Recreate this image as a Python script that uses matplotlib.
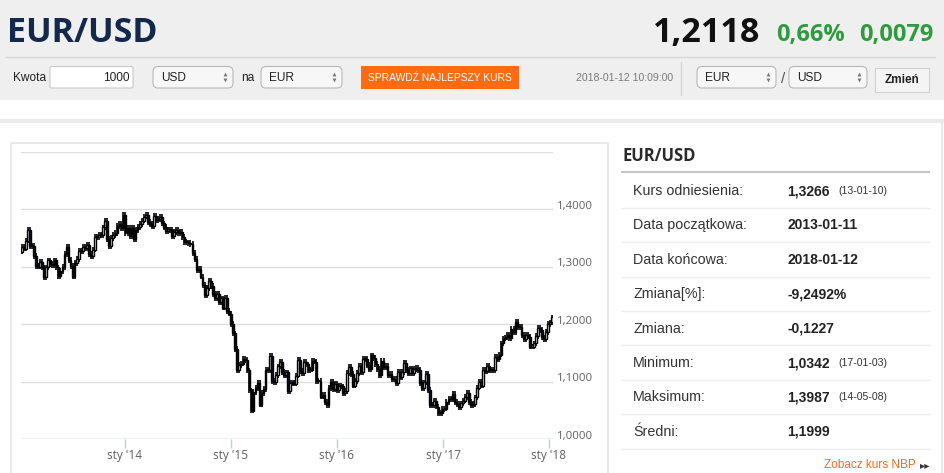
import matplotlib
matplotlib.use('Agg')
import matplotlib.pyplot as plt
import matplotlib.dates as mdates
from matplotlib.patches import Rectangle, FancyBboxPatch
from matplotlib.transforms import blended_transform_factory, offset_copy
import numpy as np
import pandas as pd

# weekly closes EUR/USD (Fridays)
close_2013 = [1.3345, 1.3317, 1.3458, 1.3640, 1.3365, 1.3362, 1.3190,
              1.3020, 1.3005, 1.3080, 1.2990, 1.2820,
              1.2990, 1.3110, 1.3050, 1.3030,
              1.3110, 1.2990, 1.2840, 1.2930, 1.3000,
              1.3220, 1.3345, 1.3120, 1.3010,
              1.2830, 1.3070, 1.3140, 1.3280,
              1.3280, 1.3340, 1.3330, 1.3380, 1.3220,
              1.3180, 1.3300, 1.3520, 1.3520,
              1.3555, 1.3550, 1.3685, 1.3800,
              1.3485, 1.3365, 1.3500, 1.3555, 1.3595,
              1.3705, 1.3745, 1.3670, 1.3900]
close_2014 = [1.3590, 1.3670, 1.3540, 1.3680, 1.3485,
              1.3635, 1.3695, 1.3740, 1.3805,
              1.3875, 1.3910, 1.3780, 1.3750,
              1.3705, 1.3885, 1.3815, 1.3835,
              1.3870, 1.3755, 1.3695, 1.3630, 1.3635,
              1.3645, 1.3540, 1.3600, 1.3645,
              1.3590, 1.3605, 1.3525, 1.3430,
              1.3425, 1.3410, 1.3400, 1.3240, 1.3130,
              1.2950, 1.2960, 1.2830, 1.2685,
              1.2515, 1.2625, 1.2760, 1.2670, 1.2525,
              1.2450, 1.2525, 1.2390, 1.2450,
              1.2290, 1.2465, 1.2225, 1.2185]
close_2015 = [1.2000, 1.1840, 1.1565, 1.1205, 1.1290,
              1.1315, 1.1390, 1.1380, 1.1195,
              1.0845, 1.0495, 1.0825, 1.0890,
              1.0970, 1.0600, 1.0805, 1.0875,
              1.1200, 1.1200, 1.1445, 1.1015, 1.0985,
              1.1110, 1.1265, 1.1350, 1.1165,
              1.1110, 1.1160, 1.0830, 1.0980, 1.0985,
              1.0965, 1.1105, 1.1385, 1.1185,
              1.1150, 1.1340, 1.1300, 1.1195,
              1.1210, 1.1360, 1.1350, 1.1015, 1.1005,
              1.0740, 1.0770, 1.0645, 1.0590,
              1.0885, 1.0990, 1.0865, 1.0965]
close_2016 = [1.0860, 1.0925, 1.0915, 1.0795, 1.0830,
              1.1155, 1.1255, 1.1130, 1.0930,
              1.1005, 1.1155, 1.1270, 1.1165,
              1.1390, 1.1400, 1.1285, 1.1225, 1.1455,
              1.1405, 1.1310, 1.1225, 1.1115,
              1.1365, 1.1250, 1.1280, 1.1115,
              1.1135, 1.1050, 1.1040, 1.0975, 1.1175,
              1.1085, 1.1165, 1.1325, 1.1200,
              1.1155, 1.1230, 1.1155, 1.1225, 1.1240,
              1.1200, 1.0975, 1.0880, 1.0985,
              1.1140, 1.0850, 1.0590, 1.0590,
              1.0665, 1.0565, 1.0450, 1.0455, 1.0520]
close_2017 = [1.0530, 1.0645, 1.0705, 1.0695,
              1.0780, 1.0640, 1.0615, 1.0560,
              1.0620, 1.0670, 1.0735, 1.0800, 1.0650,
              1.0590, 1.0615, 1.0725, 1.0895,
              1.0995, 1.0930, 1.1205, 1.1185,
              1.1280, 1.1195, 1.1200, 1.1195, 1.1425,
              1.1400, 1.1470, 1.1665, 1.1750,
              1.1770, 1.1820, 1.1760, 1.1925,
              1.1860, 1.2035, 1.1945, 1.1950, 1.1815,
              1.1735, 1.1820, 1.1785, 1.1610,
              1.1610, 1.1665, 1.1795, 1.1935,
              1.1895, 1.1770, 1.1745, 1.1860, 1.2005]
close_2018 = [1.2030, 1.2118]

close = close_2013 + close_2014 + close_2015 + close_2016 + close_2017 + close_2018
start_date = '2013-01-11'
ref_rate = 1.3266

grid_vals = [1.0, 1.1, 1.2, 1.3, 1.4, 1.5]
ytick_vals = [1.0, 1.1, 1.2, 1.3, 1.4]
ytick_labels = ['1,0000', '1,1000', '1,2000', '1,3000', '1,4000']
xtick_dates = ['2014-01-01', '2015-01-01', '2016-01-01', '2017-01-01', '2018-01-01']
xtick_labels = ["sty '14", "sty '15", "sty '16", "sty '17", "sty '18"]

pair = 'EUR/USD'
last_rate = '1,2118'
chg_pct = '0,66%'
chg_abs = '0,0079'
amount = '1000'
quote_time = '2018-01-12 10:09:00'

row_labels = ['Kurs odniesienia:', 'Data początkowa:', 'Data końcowa:', 'Zmiana[%]:',
              'Zmiana:', 'Minimum:', 'Maksimum:', 'Średni:']
row_values = ['1,3266', '2013-01-11', '2018-01-12', '-9,2492%',
              '-0,1227', '1,0342', '1,3987', '1,1999']
row_dates = ['(13-01-10)', '', '', '', '', '(17-01-03)', '(14-05-08)', '']

W, H = 945, 473
fig = plt.figure(figsize=(W / 100, H / 100), dpi=100)
bg = fig.add_axes([0, 0, 1, 1])
bg.set_xlim(0, W)
bg.set_ylim(H, 0)
bg.axis('off')

SANS = ['Liberation Sans', 'DejaVu Sans']
OPEN = ['Open Sans', 'DejaVu Sans']


def box(x0, y0, x1, y1, fc, ec='none', lw=1.0, r=0, z=1):
    if r:
        p = FancyBboxPatch((x0, y0), x1 - x0, y1 - y0,
                           boxstyle=f'round,pad=0,rounding_size={r}',
                           fc=fc, ec=ec, lw=lw, zorder=z)
    else:
        p = Rectangle((x0, y0), x1 - x0, y1 - y0, fc=fc, ec=ec, lw=lw, zorder=z)
    bg.add_patch(p)


def select(x0, x1, label):
    box(x0, 66.5, x1, 88, '#f7f7f7', '#b8b8b8', 0.8, r=5, z=2)
    bg.text(x0 + 8, 78, label, fontsize=8.6, color='#222', family=SANS, va='center', zorder=3)
    bg.plot([x1 - 8], [74.5], marker='^', ms=2.8, color='#777', mec='none', zorder=3)
    bg.plot([x1 - 8], [80.5], marker='v', ms=2.8, color='#777', mec='none', zorder=3)


# header band
box(0, 0, W, 100, '#efefef', z=0)
bg.plot([6, 935], [57.5, 57.5], color='#d6d6d6', lw=1, zorder=1)
bg.text(7, 41.5, pair, fontsize=24.5, fontweight='bold', color='#13294b', family=OPEN, va='baseline')
bg.text(760, 42.5, last_rate, ha='right', va='baseline', fontsize=24.5, fontweight='bold',
        color='#111111', family=OPEN)
bg.text(776, 41, chg_pct, ha='left', va='baseline', fontsize=17, fontweight='bold',
        color='#2f9b3f', family=OPEN)
bg.text(934, 41, chg_abs, ha='right', va='baseline', fontsize=17, fontweight='bold',
        color='#2f9b3f', family=OPEN)

# toolbar
bg.text(13, 78, 'Kwota', fontsize=8.6, color='#222', family=SANS, va='center')
box(50, 66.5, 133, 88, 'white', '#c8c8c8', 0.8, r=2, z=2)
bg.text(130, 78, amount, fontsize=8.6, color='#222', family=SANS, va='center', ha='right', zorder=3)
select(153, 233, 'USD')
bg.text(241, 78, 'na', fontsize=8.6, color='#222', family=SANS, va='center')
select(261, 342, 'EUR')
box(361, 66, 519, 89, '#ff6b12', z=2)
bg.text(440, 78, 'SPRAWDŹ NAJLEPSZY KURS', fontsize=7.4, color='white',
        family=SANS, ha='center', va='center', zorder=3)
bg.text(576, 78, quote_time, fontsize=7.6, color='#7a7a7a', family=SANS, va='center')
bg.plot([681, 681], [62, 95], color='#d6d6d6', lw=1)
select(697, 776, 'EUR')
bg.text(781, 79, '/', fontsize=11, color='#555', family=SANS, va='center')
select(789, 867, 'USD')
box(875, 68, 929, 92, '#f4f4f4', '#d0d0d0', 0.8, z=2)
bg.text(902, 80, 'Zmień', fontsize=8.5, fontweight='bold', color='#222', family=SANS,
        ha='center', va='center', zorder=3)

# page body frames
box(0, 119, W, 123, '#ebebeb', z=0)
box(11, 143, 608, 490, 'none', '#e4e4e4', 1.2, z=1)
bg.plot([941.5, 941.5], [123, H], color='#e4e4e4', lw=1.2)

# right info panel
bg.text(622, 161, pair, fontsize=12, fontweight='bold', color='#2a2a2a', family=OPEN, va='baseline')
bg.plot([622, 929], [172.3, 172.3], color='#c4c4c4', lw=1.5)
for i, (lab, val, dt) in enumerate(zip(row_labels, row_values, row_dates)):
    yc = 191 + 34.4 * i
    bg.text(633, yc, lab, fontsize=10.3, color='#333', family=SANS, va='center')
    bg.text(787, yc, val, fontsize=10, fontweight='bold', color='#222', family=SANS, va='center')
    if dt:
        bg.text(838, yc, dt, fontsize=7.6, color='#333', family=SANS, va='center')
    ys = 207.7 + 34.4 * i
    bg.plot([622, 929], [ys, ys], color='#efefef', lw=1)
bg.text(824, 465, 'Zobacz kurs NBP', fontsize=8.5, color='#f26b1d', family=SANS, va='center')
bg.text(920, 465, '▸▸', fontsize=7.5, color='#333', family=['DejaVu Sans'], va='center')

# chart
ax = fig.add_axes([21 / W, 1 - 439 / H, (553 - 21) / W, (439 - 152) / H])
ax.patch.set_visible(False)
ax.set_ylim(1.0, 1.5)
ax.set_xlim(mdates.date2num(pd.Timestamp('2013-01-08')), mdates.date2num(pd.Timestamp('2018-01-15')))
for v in grid_vals:
    ax.axhline(v, color='#dedede', lw=1, zorder=1)
ax.axhline(1.0, color='#c0d0e0', lw=1, zorder=2)

dates = pd.date_range(start_date, periods=len(close), freq='7D')
x = mdates.date2num(dates)
c = np.array(close)
o = np.r_[ref_rate, c[:-1]]
lo = np.minimum(o, c)
hi = np.maximum(o, c)
up = c >= o
ax.vlines(x, lo - 0.005, hi + 0.005, color='black', lw=1.2, zorder=3)
ax.bar(x, np.maximum(hi - lo, 0.002), bottom=lo, width=5.5,
       color=np.where(up, 'white', '#101828'), edgecolor='black', lw=1.0, zorder=4)

for s in ax.spines.values():
    s.set_visible(False)
ax.set_yticks([])
ax.set_xticks(mdates.date2num(pd.to_datetime(xtick_dates)), labels=xtick_labels)
ax.tick_params(axis='x', length=6.5, width=1, color='#c0d0e0', labelsize=8.5,
               labelcolor='#606060', pad=1)
for lbl in ax.get_xticklabels():
    lbl.set_family(OPEN)

tr = offset_copy(blended_transform_factory(ax.transAxes, ax.transData), fig=fig,
                 x=3.5, y=3, units='dots')
for v, s in zip(ytick_vals, ytick_labels):
    ax.text(1.0, v, s, transform=tr, ha='left', va='center', fontsize=8.2,
            color='#606060', family=OPEN)

fig.savefig('out.png', dpi=100)
